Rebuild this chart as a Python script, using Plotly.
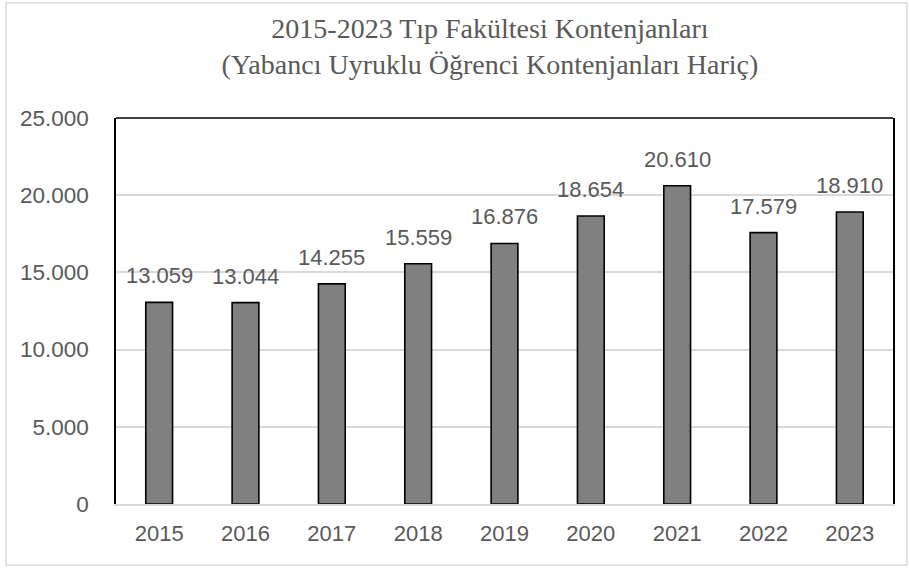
import plotly.graph_objects as go

years = ["2015", "2016", "2017", "2018", "2019", "2020", "2021", "2022", "2023"]
quotas = [13059, 13044, 14255, 15559, 16876, 18654, 20610, 17579, 18910]
y_ticks = [0, 5000, 10000, 15000, 20000, 25000]
y_tick_labels = ["0", "5.000", "10.000", "15.000", "20.000", "25.000"]
title_text = "2015-2023 Tıp Fakültesi Kontenjanları<br>(Yabancı Uyruklu Öğrenci Kontenjanları Hariç)"

label_texts = [f"{v:,}".replace(",", ".") for v in quotas]

GRAY_TXT = "#595959"
GRID = "#d9d9d9"

fig = go.Figure()
fig.add_trace(go.Bar(
    x=years, y=quotas,
    marker=dict(color="#808080", line=dict(color="black", width=1.6)),
    hoverinfo="x+y",
))

for i, (y, t) in enumerate(zip(quotas, label_texts)):
    fig.add_annotation(x=i, y=y, text=t, showarrow=False, yanchor="bottom",
                       yshift=12, font=dict(family="Liberation Sans, Arial", size=22, color=GRAY_TXT))

fig.update_layout(
    width=910, height=568,
    margin=dict(l=116, r=17, t=118, b=64, autoexpand=False),
    paper_bgcolor="white", plot_bgcolor="white",
    bargap=0.69,
    showlegend=False,
    title=dict(text=title_text, x=490 / 910, xanchor="center", xref="container",
               y=1 - 38 / 568, yanchor="middle", yref="container", automargin=False,
               font=dict(family="Liberation Serif, Times New Roman", size=28, color=GRAY_TXT)),
    xaxis=dict(type="category", range=[-0.5, len(years) - 0.5], autorange=False,
               showline=True, linecolor=GRID, linewidth=1.5, showgrid=False, ticks="",
               tickfont=dict(family="Liberation Sans, Arial", size=22, color=GRAY_TXT),
               ticklabelstandoff=9, automargin=False),
    yaxis=dict(range=[0, 25000], autorange=False, tickvals=y_ticks, ticktext=y_tick_labels,
               showgrid=True, gridcolor=GRID, gridwidth=1.5, zeroline=False,
               showline=True, linecolor="black", linewidth=1.5, mirror=True, ticks="",
               tickfont=dict(family="Liberation Sans, Arial", size=22.5, color=GRAY_TXT),
               ticklabelstandoff=21, automargin=False),
    shapes=[
        dict(type="line", xref="paper", yref="paper", x0=0, x1=1, y0=1, y1=1,
             line=dict(color="black", width=1.5)),
        dict(type="rect", xref="paper", yref="paper",
             x0=(6 - 116) / 777, x1=(907 - 116) / 777,
             y0=(504 - 565) / 386, y1=(504 - 3) / 386,
             line=dict(color=GRID, width=1.5), layer="below"),
    ],
)

fig.write_html("out.html", config={"displayModeBar": False},
               post_script="document.body.style.margin='0';")
